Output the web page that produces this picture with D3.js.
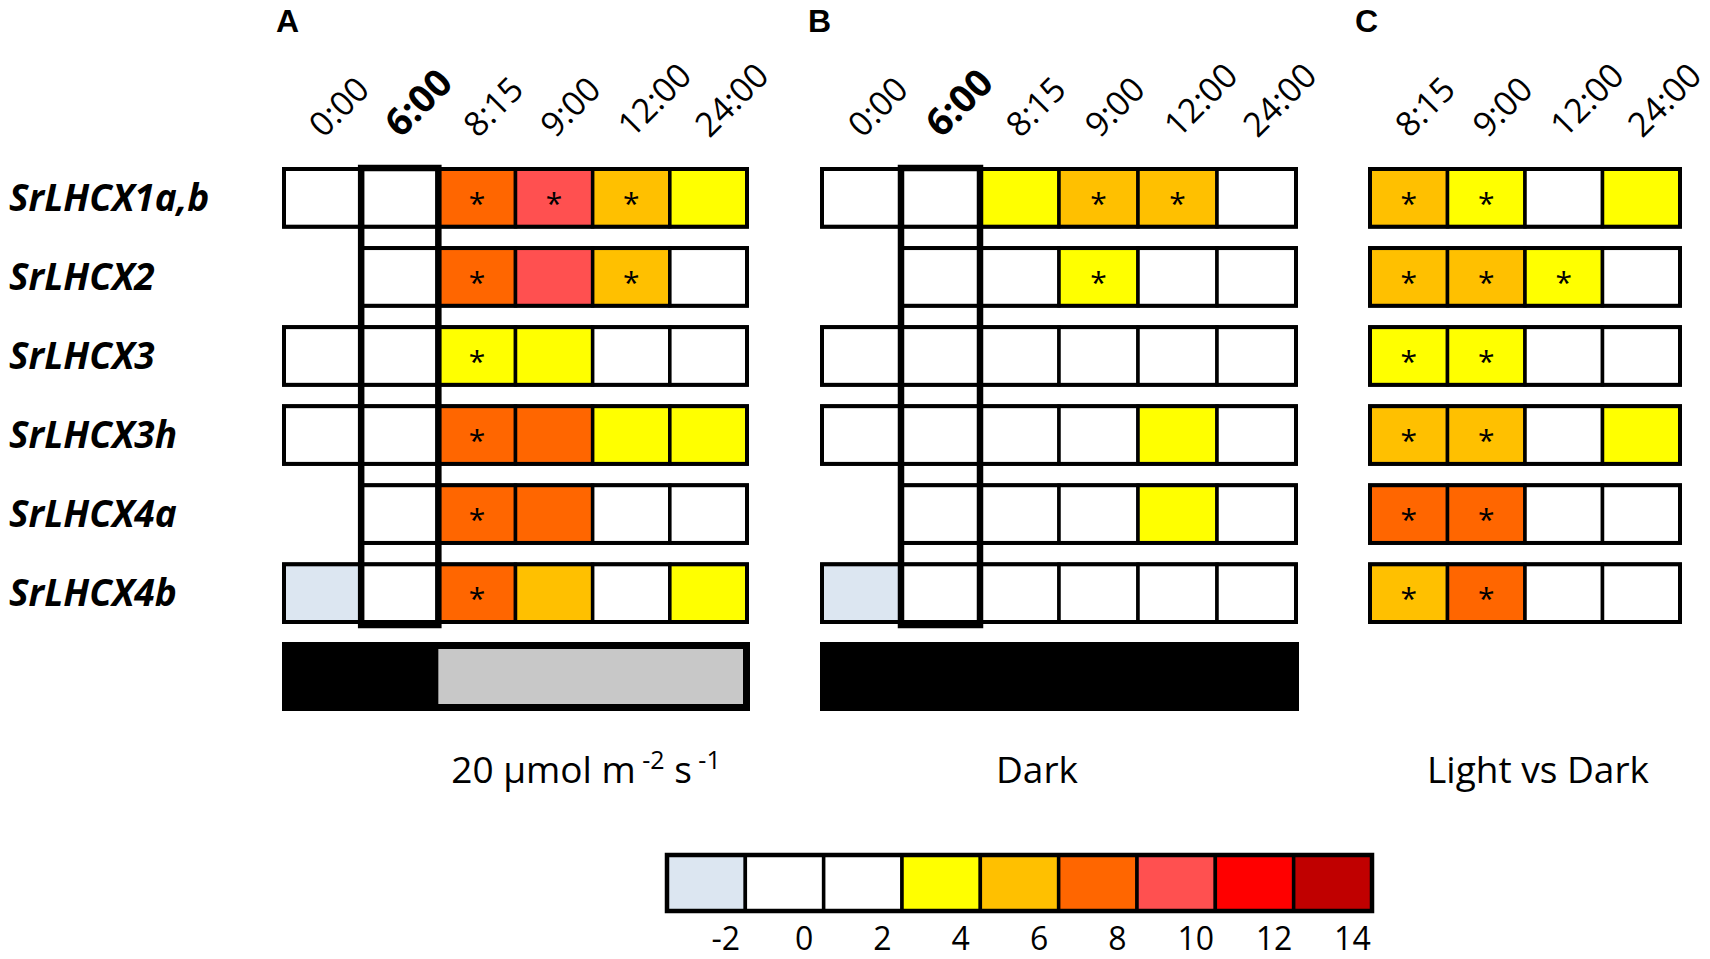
<!DOCTYPE html>
<html>
<head>
<meta charset="utf-8">
<script src="https://cdn.jsdelivr.net/npm/d3@7"></script>
<style>
  body { margin: 0; background: #fff; }
  text { font-family: "Open Sans", sans-serif; fill: #000; }
</style>
</head>
<body>
<svg id="chart" width="1710" height="959"></svg>
<script>
// genes (rows) and sampling times (columns)
var genes = ["SrLHCX1a,b", "SrLHCX2", "SrLHCX3", "SrLHCX3h", "SrLHCX4a", "SrLHCX4b"];
var timesAB = ["0:00", "6:00", "8:15", "9:00", "12:00", "24:00"];
var timesC = ["8:15", "9:00", "12:00", "24:00"];

// fold change values (null = no cell)
var lightValues = [
    [0, 0, 8, 10, 6, 4],
    [null, 0, 8, 10, 6, 0],
    [0, 0, 4, 4, 0, 0],
    [0, 0, 8, 8, 4, 4],
    [null, 0, 8, 8, 0, 0],
    [-2, 0, 8, 6, 0, 4]
];
var lightSig = [
    [0, 0, 1, 1, 1, 0],
    [0, 0, 1, 0, 1, 0],
    [0, 0, 1, 0, 0, 0],
    [0, 0, 1, 0, 0, 0],
    [0, 0, 1, 0, 0, 0],
    [0, 0, 1, 0, 0, 0]
];
var darkValues = [
    [0, 0, 4, 6, 6, 0],
    [null, 0, 0, 4, 0, 0],
    [0, 0, 0, 0, 0, 0],
    [0, 0, 0, 0, 4, 0],
    [null, 0, 0, 0, 4, 0],
    [-2, 0, 0, 0, 0, 0]
];
var darkSig = [
    [0, 0, 0, 1, 1, 0],
    [0, 0, 0, 1, 0, 0],
    [0, 0, 0, 0, 0, 0],
    [0, 0, 0, 0, 0, 0],
    [0, 0, 0, 0, 0, 0],
    [0, 0, 0, 0, 0, 0]
];
var ldValues = [
    [6, 4, 0, 4],
    [6, 6, 4, 0],
    [4, 4, 0, 0],
    [6, 6, 0, 4],
    [8, 8, 0, 0],
    [6, 8, 0, 0]
];
var ldSig = [
    [1, 1, 0, 0],
    [1, 1, 1, 0],
    [1, 1, 0, 0],
    [1, 1, 0, 0],
    [1, 1, 0, 0],
    [1, 1, 0, 0]
];
// light regime under panels A and B
var lightRegime = ["dark", "dark", "light", "light", "light", "light"];
var darkRegime = ["dark", "dark", "dark", "dark", "dark", "dark"];

// colour scale legend
var legendValues = [-2, 0, 2, 4, 6, 8, 10, 12, 14];
var legendColors = ["#dce6f1", "#ffffff", "#ffffff", "#ffff00", "#ffc000", "#ff6600", "#ff5050", "#ff0000", "#c00000"];

var svg = d3.select("#chart");
svg.append("rect").attr("width", 1710).attr("height", 959).attr("fill", "#fff");

var color = d3.scaleQuantize().domain([-3, 15]).range(legendColors);

var y = d3.scaleBand().domain(genes).range([169, 622]).paddingInner(0.27);

function drawPanel(opts) {
    var x = d3.scaleBand().domain(opts.times).range(opts.range);
    var g = svg.append("g");

    // column headers
    g.selectAll(".hdr").data(opts.times).enter().append("text")
        .attr("transform", function(d) {
            return "translate(" + (x(d) + x.bandwidth() / 2 + 1) + ",139) rotate(-45)";
        })
        .style("font-size", function(d) { return d == "6:00" ? "38px" : "34px"; })
        .style("font-weight", function(d) { return d == "6:00" ? "700" : "400"; })
        .text(function(d) { return d; });

    genes.forEach(function(gene, i) {
        var vals = opts.values[i];
        var cells = vals.map(function(v, j) { return {t: opts.times[j], v: v, s: opts.sig[i][j]}; })
            .filter(function(c) { return c.v !== null; });
        var row = g.append("g");
        row.selectAll("rect").data(cells).enter().append("rect")
            .attr("x", function(c) { return x(c.t); })
            .attr("y", y(gene))
            .attr("width", x.bandwidth())
            .attr("height", y.bandwidth())
            .attr("fill", function(c) { return color(c.v); })
            .attr("stroke", "#000")
            .attr("stroke-width", 3.5);
        row.append("rect")
            .attr("x", x(cells[0].t))
            .attr("y", y(gene))
            .attr("width", x(cells[cells.length - 1].t) + x.bandwidth() - x(cells[0].t))
            .attr("height", y.bandwidth())
            .attr("fill", "none")
            .attr("stroke", "#000")
            .attr("stroke-width", 4);
        row.selectAll(".star").data(cells.filter(function(c) { return c.s; })).enter().append("text")
            .attr("x", function(c) { return x(c.t) + x.bandwidth() / 2; })
            .attr("y", y(gene) + y.bandwidth() / 2 + 16)
            .attr("text-anchor", "middle")
            .style("font-size", "30px")
            .text("*");
    });

    // thick box around 6:00
    if (opts.times.indexOf("6:00") >= 0) {
        g.append("rect")
            .attr("x", x("6:00"))
            .attr("y", y(genes[0]) - 1)
            .attr("width", x.bandwidth())
            .attr("height", y(genes[genes.length - 1]) + y.bandwidth() - y(genes[0]) + 4)
            .attr("fill", "none")
            .attr("stroke", "#000")
            .attr("stroke-width", 6.5);
    }

    // light regime bar
    if (opts.regime) {
        var r0 = opts.range[0] - 2, r1 = opts.range[1] + 3;
        g.append("rect").attr("x", r0).attr("y", 642).attr("width", r1 - r0).attr("height", 69).attr("fill", "#000");
        var lit = opts.times.filter(function(t, j) { return opts.regime[j] == "light"; });
        if (lit.length) {
            var lx = x(lit[0]);
            g.append("rect").attr("x", lx).attr("y", 649)
                .attr("width", r1 - 7 - lx).attr("height", 55).attr("fill", "#c8c8c8");
        }
    }

    // panel letter
    svg.append("text").attr("x", opts.letterX).attr("y", 32)
        .style("font-family", "'Liberation Sans', Arial, sans-serif")
        .style("font-weight", "700").style("font-size", "32px")
        .text(opts.letter);
    return x;
}

drawPanel({times: timesAB, values: lightValues, sig: lightSig, range: [284, 747], regime: lightRegime, letter: "A", letterX: 276});
drawPanel({times: timesAB, values: darkValues, sig: darkSig, range: [822, 1296], regime: darkRegime, letter: "B", letterX: 808});
drawPanel({times: timesC, values: ldValues, sig: ldSig, range: [1370, 1680], regime: null, letter: "C", letterX: 1355});

// row labels
svg.selectAll(".gene").data(genes).enter().append("text")
    .attr("x", 9)
    .attr("y", function(d) { return y(d) + y.bandwidth() / 2 + 13; })
    .style("font-size", "37px")
    .style("font-weight", "700")
    .style("font-style", "italic")
    .text(function(d) { return d; });

// panel subtitles
var sub = svg.append("text").attr("x", 586).attr("y", 783).attr("text-anchor", "middle").style("font-size", "37px");
sub.append("tspan").text("20 µmol m");
sub.append("tspan").attr("dy", -14).style("font-size", "25px").text(" -2");
sub.append("tspan").attr("dy", 14).text(" s");
sub.append("tspan").attr("dy", -14).style("font-size", "25px").text(" -1");
svg.append("text").attr("x", 1037).attr("y", 783).attr("text-anchor", "middle").style("font-size", "37px").text("Dark");
svg.append("text").attr("x", 1538).attr("y", 783).attr("text-anchor", "middle").style("font-size", "37px").text("Light vs Dark");

// colour legend
var lx = d3.scaleBand().domain(legendValues).range([667, 1372]);
var leg = svg.append("g");
leg.selectAll("rect").data(legendValues).enter().append("rect")
    .attr("x", function(d) { return lx(d); })
    .attr("y", 855)
    .attr("width", lx.bandwidth())
    .attr("height", 56)
    .attr("fill", function(d) { return color(d); })
    .attr("stroke", "#000")
    .attr("stroke-width", 3.5);
leg.append("rect").attr("x", 667).attr("y", 855).attr("width", 705).attr("height", 56)
    .attr("fill", "none").attr("stroke", "#000").attr("stroke-width", 4.5);
leg.selectAll("text").data(legendValues).enter().append("text")
    .attr("x", function(d) { return lx(d) + lx.bandwidth() * 0.75; })
    .attr("y", 950)
    .attr("text-anchor", "middle")
    .style("font-size", "32px")
    .text(function(d) { return d; });
</script>
</body>
</html>
